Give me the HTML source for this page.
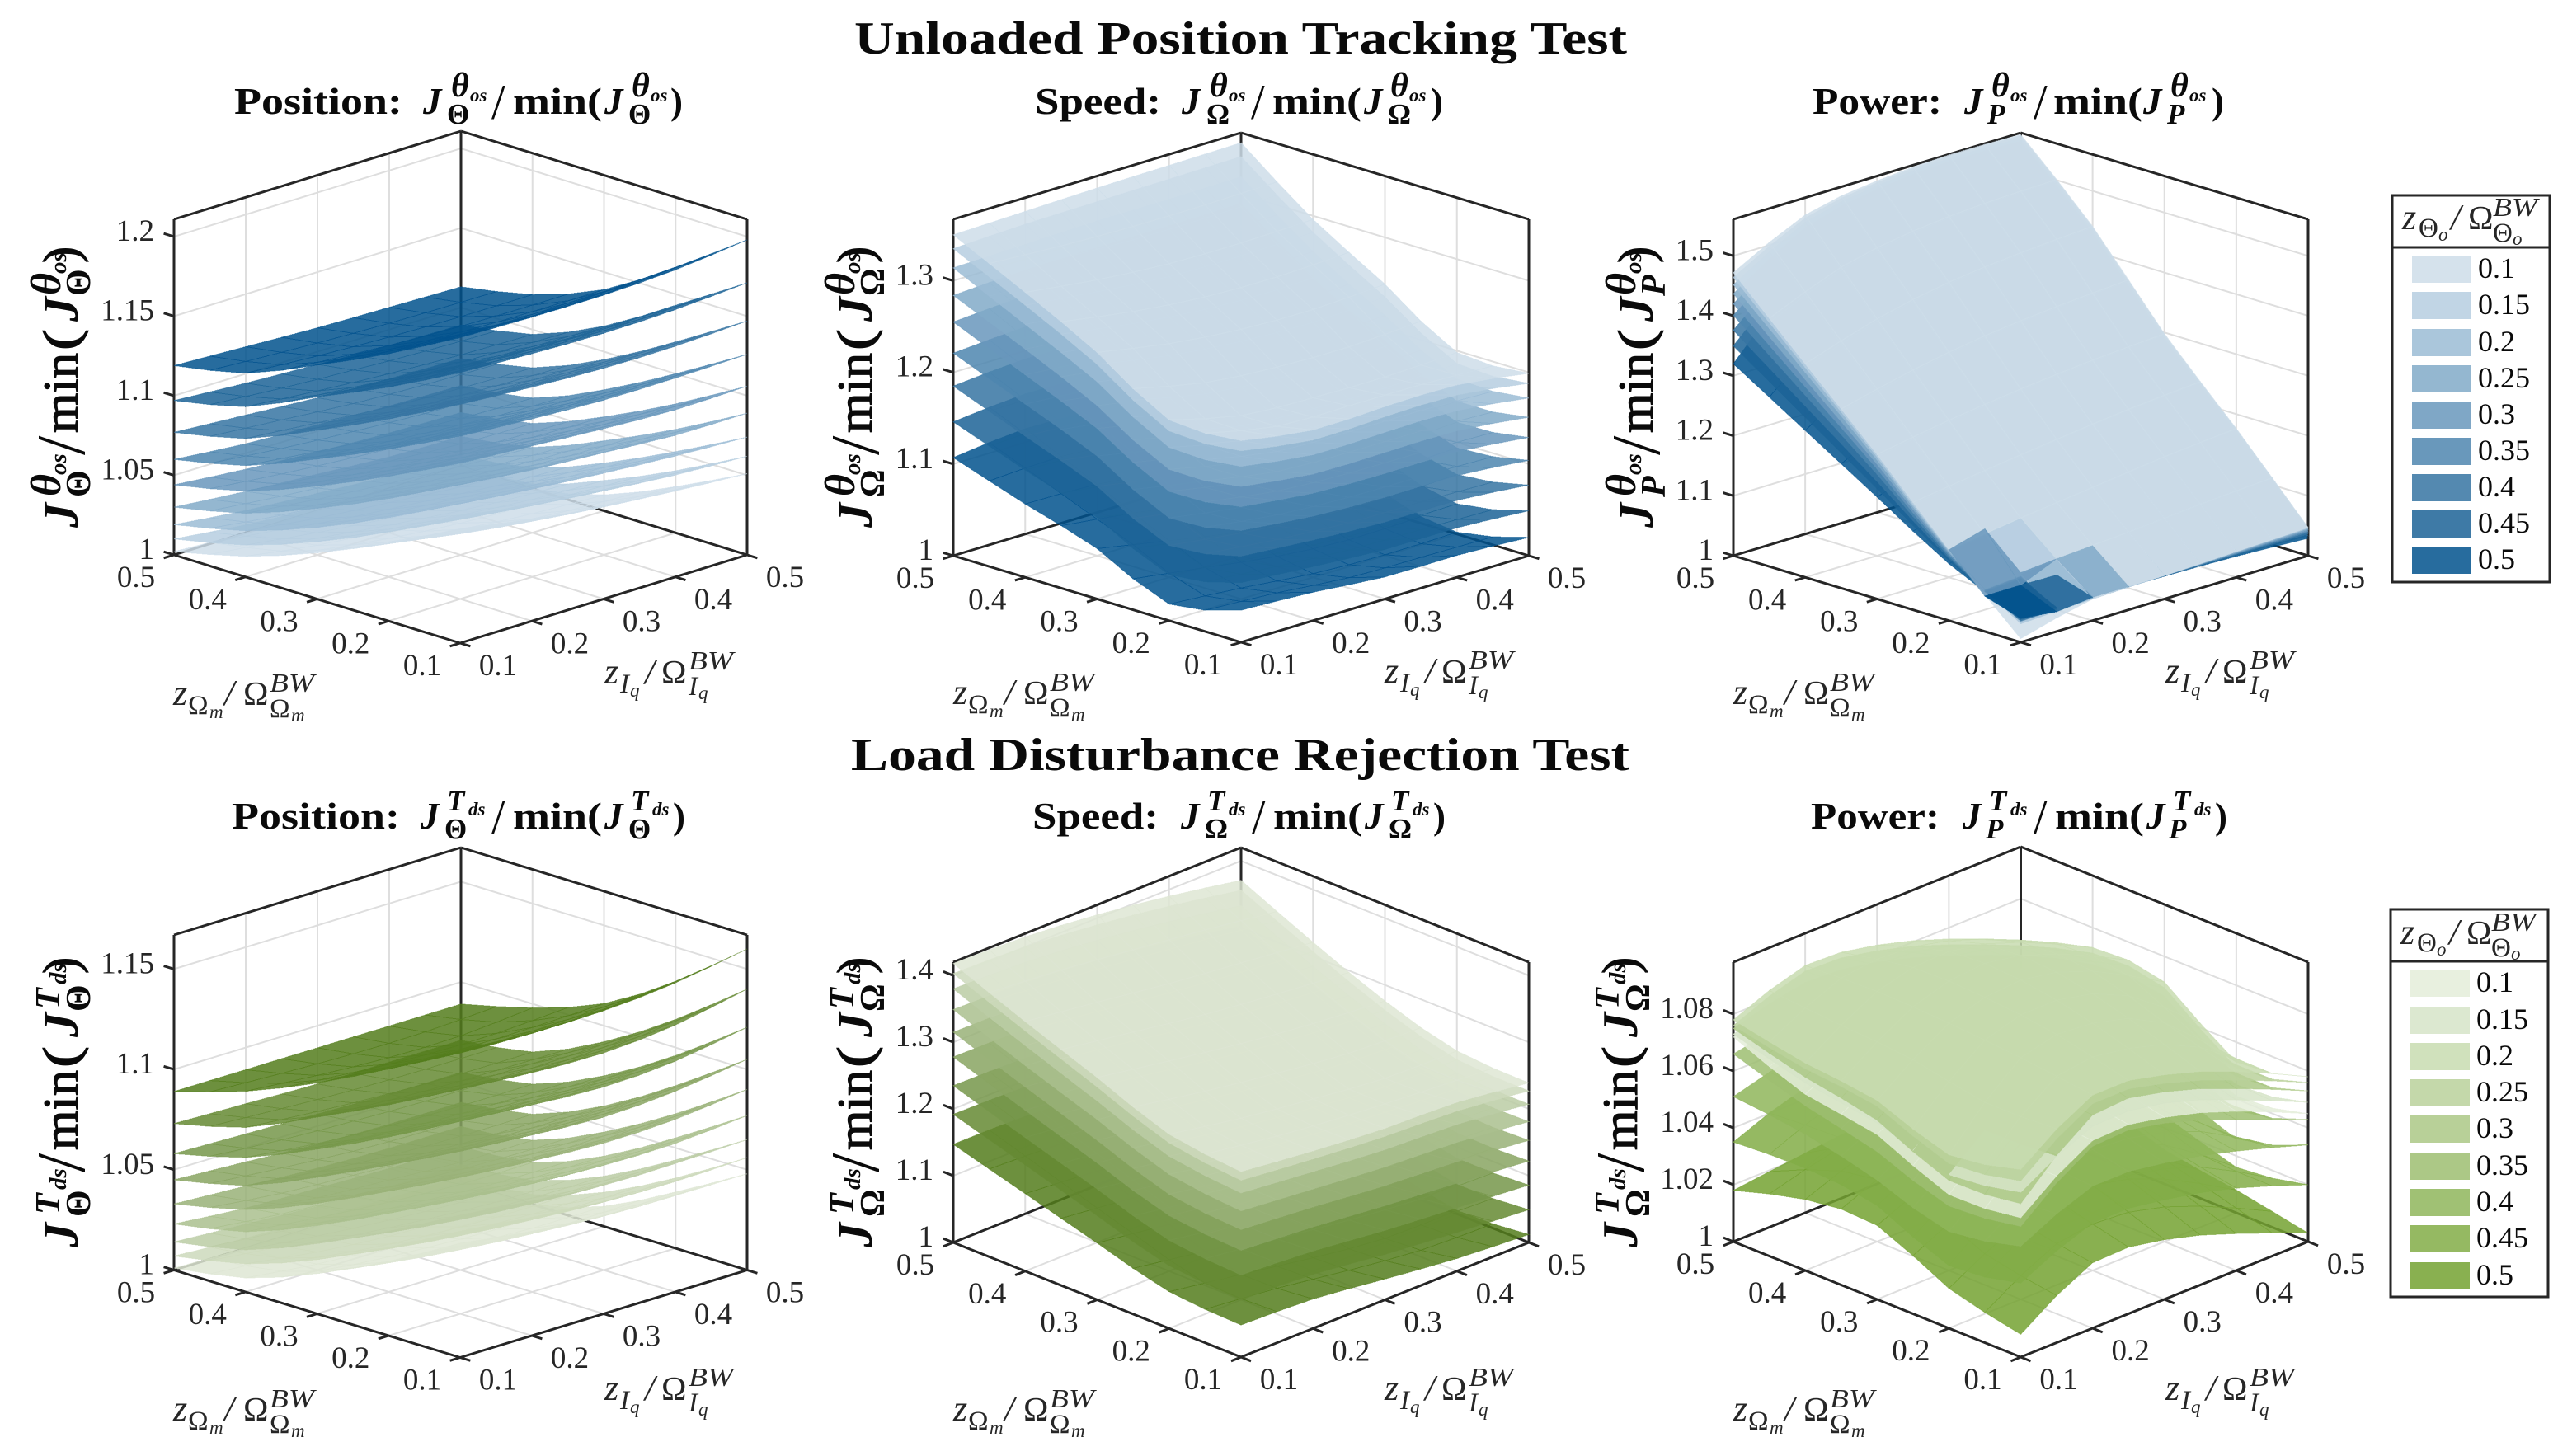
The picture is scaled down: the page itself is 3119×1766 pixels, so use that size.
<!DOCTYPE html>
<html lang="en">
<head>
<meta charset="utf-8">
<title>Unloaded Position Tracking and Load Disturbance Rejection Tests</title>
<style>
html,body{margin:0;padding:0;background:#fff}
svg{display:block}
text{font-family:"Liberation Serif","DejaVu Serif",serif;fill:#0a0a0a;white-space:pre}
.b{font-weight:bold}
.i{font-style:italic}
.bi{font-weight:bold;font-style:italic}
.main{font-size:56px;font-weight:bold}
.ttl text{font-size:45px}
.ttl text.s1{font-size:35px}
.ttl text.th{font-size:42px}
.ttl text.s2{font-size:23px}
.ttl text.sl{font-size:60px}
.yl text{font-size:60px}
.yl text.s1{font-size:42px}
.yl text.th{font-size:52px}
.yl text.s2{font-size:29px}
.yl text.sl{font-size:84px}
.yl text.mn{stroke:#0a0a0a;stroke-width:1.2px}
.al text{font-size:44px;fill:#262626}
.al text.om{font-size:41px}
.al text.s1{font-size:33px}
.al text.s2{font-size:23px}
.al text.s3{font-size:32px}
.lg{font-size:36px}
.tick{font-size:37px;fill:#262626}
</style>
</head>
<body>
<svg id="figure" xmlns="http://www.w3.org/2000/svg" width="3119" height="1766" viewBox="0 0 3119 1766">
<rect x="0" y="0" width="3119" height="1766" fill="#fff"/>
<g id="plots"></g>

<text class="main" x="1036" y="65" textLength="937" lengthAdjust="spacingAndGlyphs">Unloaded Position Tracking Test</text>
<text class="main" x="1032" y="934" textLength="944" lengthAdjust="spacingAndGlyphs">Load Disturbance Rejection Test</text>

<g class="ttl" transform="translate(513,138)">
<text x="-229" class="b" textLength="204" lengthAdjust="spacingAndGlyphs">Position:</text><text class="bi">J</text><text x="34" y="-21" class="bi th">θ</text><text x="57" y="-15" class="bi s2">os</text><text x="29" y="12" class="b s1">Θ</text><text x="83" y="6" class="sl">/</text><text x="109" class="b" textLength="108" lengthAdjust="spacingAndGlyphs">min(</text><text x="220" class="bi">J</text><text x="253" y="-21" class="bi th">θ</text><text x="276" y="-15" class="bi s2">os</text><text x="249" y="12" class="b s1">Θ</text><text x="300" class="b">)</text>
</g>
<g class="ttl" transform="translate(1433,138)">
<text x="-178" class="b" textLength="153" lengthAdjust="spacingAndGlyphs">Speed:</text><text class="bi">J</text><text x="34" y="-21" class="bi th">θ</text><text x="57" y="-15" class="bi s2">os</text><text x="30" y="12" class="b s1">Ω</text><text x="84" y="6" class="sl">/</text><text x="110" class="b" textLength="108" lengthAdjust="spacingAndGlyphs">min(</text><text x="221" class="bi">J</text><text x="253" y="-21" class="bi th">θ</text><text x="276" y="-15" class="bi s2">os</text><text x="250" y="12" class="b s1">Ω</text><text x="302" class="b">)</text>
</g>
<g class="ttl" transform="translate(2382,138)">
<text x="-184" class="b" textLength="157" lengthAdjust="spacingAndGlyphs">Power:</text><text class="bi">J</text><text x="33" y="-21" class="bi th">θ</text><text x="56" y="-15" class="bi s2">os</text><text x="28" y="12" class="bi s1">P</text><text x="84" y="6" class="sl">/</text><text x="108" class="b" textLength="108" lengthAdjust="spacingAndGlyphs">min(</text><text x="217" class="bi">J</text><text x="250" y="-21" class="bi th">θ</text><text x="273" y="-15" class="bi s2">os</text><text x="246" y="12" class="bi s1">P</text><text x="300" class="b">)</text>
</g>
<g class="ttl" transform="translate(510,1005)">
<text x="-229" class="b" textLength="204" lengthAdjust="spacingAndGlyphs">Position:</text><text class="bi">J</text><text x="32" y="-22" class="bi s1">T</text><text x="58" y="-16" class="bi s2">ds</text><text x="29" y="12" class="b s1">Θ</text><text x="86" y="6" class="sl">/</text><text x="112" class="b" textLength="108" lengthAdjust="spacingAndGlyphs">min(</text><text x="223" class="bi">J</text><text x="255" y="-22" class="bi s1">T</text><text x="281" y="-16" class="bi s2">ds</text><text x="252" y="12" class="b s1">Θ</text><text x="306" class="b">)</text>
</g>
<g class="ttl" transform="translate(1432,1005)">
<text x="-180" class="b" textLength="153" lengthAdjust="spacingAndGlyphs">Speed:</text><text class="bi">J</text><text x="32" y="-22" class="bi s1">T</text><text x="58" y="-16" class="bi s2">ds</text><text x="29" y="12" class="b s1">Ω</text><text x="86" y="6" class="sl">/</text><text x="112" class="b" textLength="108" lengthAdjust="spacingAndGlyphs">min(</text><text x="223" class="bi">J</text><text x="255" y="-22" class="bi s1">T</text><text x="281" y="-16" class="bi s2">ds</text><text x="252" y="12" class="b s1">Ω</text><text x="306" class="b">)</text>
</g>
<g class="ttl" transform="translate(2380,1005)">
<text x="-184" class="b" textLength="156" lengthAdjust="spacingAndGlyphs">Power:</text><text class="bi">J</text><text x="32" y="-22" class="bi s1">T</text><text x="58" y="-16" class="bi s2">ds</text><text x="28" y="12" class="bi s1">P</text><text x="86" y="6" class="sl">/</text><text x="112" class="b" textLength="108" lengthAdjust="spacingAndGlyphs">min(</text><text x="223" class="bi">J</text><text x="255" y="-22" class="bi s1">T</text><text x="281" y="-16" class="bi s2">ds</text><text x="250" y="12" class="bi s1">P</text><text x="306" class="b">)</text>
</g>

<g class="yl" transform="translate(94,640) rotate(-90)">
<text class="bi">J</text><text x="38" y="-21" class="bi th">θ</text><text x="64" y="-14" class="bi s2">os</text><text x="37" y="15" class="b s1">Θ</text><text x="88" y="8" class="sl">/</text><text x="115" class="mn" textLength="97" lengthAdjust="spacingAndGlyphs">min</text><text x="215" class="mn" textLength="26" lengthAdjust="spacingAndGlyphs">(</text><text x="250" class="bi">J</text><text x="282" y="-21" class="bi th">θ</text><text x="308" y="-14" class="bi s2">os</text><text x="281" y="15" class="b s1">Θ</text><text x="321" class="mn">)</text>
</g>
<g class="yl" transform="translate(1057,640) rotate(-90)">
<text class="bi">J</text><text x="38" y="-21" class="bi th">θ</text><text x="64" y="-14" class="bi s2">os</text><text x="37" y="15" class="b s1">Ω</text><text x="88" y="8" class="sl">/</text><text x="115" class="mn" textLength="97" lengthAdjust="spacingAndGlyphs">min</text><text x="215" class="mn" textLength="26" lengthAdjust="spacingAndGlyphs">(</text><text x="250" class="bi">J</text><text x="282" y="-21" class="bi th">θ</text><text x="308" y="-14" class="bi s2">os</text><text x="281" y="15" class="b s1">Ω</text><text x="321" class="mn">)</text>
</g>
<g class="yl" transform="translate(2004,640) rotate(-90)">
<text class="bi">J</text><text x="38" y="-21" class="bi th">θ</text><text x="64" y="-14" class="bi s2">os</text><text x="37" y="15" class="bi s1">P</text><text x="88" y="8" class="sl">/</text><text x="115" class="mn" textLength="97" lengthAdjust="spacingAndGlyphs">min</text><text x="215" class="mn" textLength="26" lengthAdjust="spacingAndGlyphs">(</text><text x="250" class="bi">J</text><text x="282" y="-21" class="bi th">θ</text><text x="308" y="-14" class="bi s2">os</text><text x="281" y="15" class="bi s1">P</text><text x="321" class="mn">)</text>
</g>
<g class="yl" transform="translate(94,1513) rotate(-90)">
<text class="bi">J</text><text x="40" y="-22" class="bi s1">T</text><text x="70" y="-14" class="bi s2">ds</text><text x="37" y="15" class="b s1">Θ</text><text x="91" y="8" class="sl">/</text><text x="118" class="mn" textLength="97" lengthAdjust="spacingAndGlyphs">min</text><text x="218" class="mn" textLength="26" lengthAdjust="spacingAndGlyphs">(</text><text x="255" class="bi">J</text><text x="289" y="-22" class="bi s1">T</text><text x="319" y="-14" class="bi s2">ds</text><text x="286" y="15" class="b s1">Θ</text><text x="332" class="mn">)</text>
</g>
<g class="yl" transform="translate(1057,1513) rotate(-90)">
<text class="bi">J</text><text x="40" y="-22" class="bi s1">T</text><text x="70" y="-14" class="bi s2">ds</text><text x="37" y="15" class="b s1">Ω</text><text x="91" y="8" class="sl">/</text><text x="118" class="mn" textLength="97" lengthAdjust="spacingAndGlyphs">min</text><text x="218" class="mn" textLength="26" lengthAdjust="spacingAndGlyphs">(</text><text x="255" class="bi">J</text><text x="289" y="-22" class="bi s1">T</text><text x="319" y="-14" class="bi s2">ds</text><text x="286" y="15" class="b s1">Ω</text><text x="332" class="mn">)</text>
</g>
<g class="yl" transform="translate(1985,1513) rotate(-90)">
<text class="bi">J</text><text x="40" y="-22" class="bi s1">T</text><text x="70" y="-14" class="bi s2">ds</text><text x="37" y="15" class="b s1">Ω</text><text x="91" y="8" class="sl">/</text><text x="118" class="mn" textLength="97" lengthAdjust="spacingAndGlyphs">min</text><text x="218" class="mn" textLength="26" lengthAdjust="spacingAndGlyphs">(</text><text x="255" class="bi">J</text><text x="289" y="-22" class="bi s1">T</text><text x="319" y="-14" class="bi s2">ds</text><text x="286" y="15" class="b s1">Ω</text><text x="332" class="mn">)</text>
</g>

<g class="al" transform="translate(210,855)"><text class="i">z</text><text x="18" y="11" class="s1">Ω</text><text x="44" y="16" class="i s2">m</text><text x="62" class="i">/</text><text x="85" class="om">Ω</text><text x="117" y="-16" class="i s3" textLength="54" lengthAdjust="spacingAndGlyphs">BW</text><text x="117" y="15" class="s1">Ω</text><text x="143" y="20" class="i s2">m</text></g>
<g class="al" transform="translate(733,829)"><text class="i">z</text><text x="19" y="11" class="i s1">I</text><text x="31" y="16" class="i s2">q</text><text x="49" class="i">/</text><text x="69" class="om">Ω</text><text x="102" y="-17" class="i s3" textLength="54" lengthAdjust="spacingAndGlyphs">BW</text><text x="102" y="14" class="i s1">I</text><text x="114" y="19" class="i s2">q</text></g>
<g class="al" transform="translate(1156,854)"><text class="i">z</text><text x="18" y="11" class="s1">Ω</text><text x="44" y="16" class="i s2">m</text><text x="62" class="i">/</text><text x="85" class="om">Ω</text><text x="117" y="-16" class="i s3" textLength="54" lengthAdjust="spacingAndGlyphs">BW</text><text x="117" y="15" class="s1">Ω</text><text x="143" y="20" class="i s2">m</text></g>
<g class="al" transform="translate(1679,828)"><text class="i">z</text><text x="19" y="11" class="i s1">I</text><text x="31" y="16" class="i s2">q</text><text x="49" class="i">/</text><text x="69" class="om">Ω</text><text x="102" y="-17" class="i s3" textLength="54" lengthAdjust="spacingAndGlyphs">BW</text><text x="102" y="14" class="i s1">I</text><text x="114" y="19" class="i s2">q</text></g>
<g class="al" transform="translate(2102,854)"><text class="i">z</text><text x="18" y="11" class="s1">Ω</text><text x="44" y="16" class="i s2">m</text><text x="62" class="i">/</text><text x="85" class="om">Ω</text><text x="117" y="-16" class="i s3" textLength="54" lengthAdjust="spacingAndGlyphs">BW</text><text x="117" y="15" class="s1">Ω</text><text x="143" y="20" class="i s2">m</text></g>
<g class="al" transform="translate(2626,828)"><text class="i">z</text><text x="19" y="11" class="i s1">I</text><text x="31" y="16" class="i s2">q</text><text x="49" class="i">/</text><text x="69" class="om">Ω</text><text x="102" y="-17" class="i s3" textLength="54" lengthAdjust="spacingAndGlyphs">BW</text><text x="102" y="14" class="i s1">I</text><text x="114" y="19" class="i s2">q</text></g>
<g class="al" transform="translate(210,1723)"><text class="i">z</text><text x="18" y="11" class="s1">Ω</text><text x="44" y="16" class="i s2">m</text><text x="62" class="i">/</text><text x="85" class="om">Ω</text><text x="117" y="-16" class="i s3" textLength="54" lengthAdjust="spacingAndGlyphs">BW</text><text x="117" y="15" class="s1">Ω</text><text x="143" y="20" class="i s2">m</text></g>
<g class="al" transform="translate(733,1698)"><text class="i">z</text><text x="19" y="11" class="i s1">I</text><text x="31" y="16" class="i s2">q</text><text x="49" class="i">/</text><text x="69" class="om">Ω</text><text x="102" y="-17" class="i s3" textLength="54" lengthAdjust="spacingAndGlyphs">BW</text><text x="102" y="14" class="i s1">I</text><text x="114" y="19" class="i s2">q</text></g>
<g class="al" transform="translate(1156,1723)"><text class="i">z</text><text x="18" y="11" class="s1">Ω</text><text x="44" y="16" class="i s2">m</text><text x="62" class="i">/</text><text x="85" class="om">Ω</text><text x="117" y="-16" class="i s3" textLength="54" lengthAdjust="spacingAndGlyphs">BW</text><text x="117" y="15" class="s1">Ω</text><text x="143" y="20" class="i s2">m</text></g>
<g class="al" transform="translate(1679,1698)"><text class="i">z</text><text x="19" y="11" class="i s1">I</text><text x="31" y="16" class="i s2">q</text><text x="49" class="i">/</text><text x="69" class="om">Ω</text><text x="102" y="-17" class="i s3" textLength="54" lengthAdjust="spacingAndGlyphs">BW</text><text x="102" y="14" class="i s1">I</text><text x="114" y="19" class="i s2">q</text></g>
<g class="al" transform="translate(2102,1723)"><text class="i">z</text><text x="18" y="11" class="s1">Ω</text><text x="44" y="16" class="i s2">m</text><text x="62" class="i">/</text><text x="85" class="om">Ω</text><text x="117" y="-16" class="i s3" textLength="54" lengthAdjust="spacingAndGlyphs">BW</text><text x="117" y="15" class="s1">Ω</text><text x="143" y="20" class="i s2">m</text></g>
<g class="al" transform="translate(2626,1698)"><text class="i">z</text><text x="19" y="11" class="i s1">I</text><text x="31" y="16" class="i s2">q</text><text x="49" class="i">/</text><text x="69" class="om">Ω</text><text x="102" y="-17" class="i s3" textLength="54" lengthAdjust="spacingAndGlyphs">BW</text><text x="102" y="14" class="i s1">I</text><text x="114" y="19" class="i s2">q</text></g>

<g>
<rect x="2901" y="237" width="191" height="469" fill="#fff" stroke="#262626" stroke-width="3"/>
<line x1="2901" y1="300" x2="3092" y2="300" stroke="#262626" stroke-width="3"/>
<g class="al" transform="translate(2913,278)"><text class="i">z</text><text x="20" y="9" class="s1">Θ</text><text x="44" y="14" class="i s2">o</text><text x="59" class="i">/</text><text x="80" class="om">Ω</text><text x="110" y="-16" class="i s3" textLength="54" lengthAdjust="spacingAndGlyphs">BW</text><text x="110" y="15" class="s1">Θ</text><text x="134" y="19" class="i s2">o</text></g>
<g><rect x="2925" y="310" width="72" height="33" fill="#d5e2ec"/><text class="lg" x="3005" y="337">0.1</text></g>
<g><rect x="2925" y="354" width="72" height="33" fill="#c1d5e5"/><text class="lg" x="3005" y="381">0.15</text></g>
<g><rect x="2925" y="399" width="72" height="33" fill="#aac6db"/><text class="lg" x="3005" y="426">0.2</text></g>
<g><rect x="2925" y="443" width="72" height="33" fill="#94b7d0"/><text class="lg" x="3005" y="470">0.25</text></g>
<g><rect x="2925" y="487" width="72" height="33" fill="#7fa7c6"/><text class="lg" x="3005" y="514">0.3</text></g>
<g><rect x="2925" y="531" width="72" height="33" fill="#6998bb"/><text class="lg" x="3005" y="558">0.35</text></g>
<g><rect x="2925" y="575" width="72" height="33" fill="#5489b0"/><text class="lg" x="3005" y="602">0.4</text></g>
<g><rect x="2925" y="619" width="72" height="33" fill="#3e7aa6"/><text class="lg" x="3005" y="646">0.45</text></g>
<g><rect x="2925" y="663" width="72" height="33" fill="#276c9e"/><text class="lg" x="3005" y="690">0.5</text></g>
</g>

<g>
<rect x="2899" y="1103" width="191" height="470" fill="#fff" stroke="#262626" stroke-width="3"/>
<line x1="2899" y1="1166" x2="3090" y2="1166" stroke="#262626" stroke-width="3"/>
<g class="al" transform="translate(2911,1145)"><text class="i">z</text><text x="20" y="9" class="s1">Θ</text><text x="44" y="14" class="i s2">o</text><text x="59" class="i">/</text><text x="80" class="om">Ω</text><text x="110" y="-16" class="i s3" textLength="54" lengthAdjust="spacingAndGlyphs">BW</text><text x="110" y="15" class="s1">Θ</text><text x="134" y="19" class="i s2">o</text></g>
<g><rect x="2923" y="1176" width="72" height="33" fill="#e8f0df"/><text class="lg" x="3003" y="1203">0.1</text></g>
<g><rect x="2923" y="1221" width="72" height="33" fill="#dce8d0"/><text class="lg" x="3003" y="1248">0.15</text></g>
<g><rect x="2923" y="1265" width="72" height="33" fill="#d0e1bc"/><text class="lg" x="3003" y="1292">0.2</text></g>
<g><rect x="2923" y="1309" width="72" height="33" fill="#c4d8aa"/><text class="lg" x="3003" y="1336">0.25</text></g>
<g><rect x="2923" y="1353" width="72" height="33" fill="#b8d098"/><text class="lg" x="3003" y="1380">0.3</text></g>
<g><rect x="2923" y="1398" width="72" height="33" fill="#acc886"/><text class="lg" x="3003" y="1425">0.35</text></g>
<g><rect x="2923" y="1442" width="72" height="33" fill="#a0c174"/><text class="lg" x="3003" y="1469">0.4</text></g>
<g><rect x="2923" y="1486" width="72" height="33" fill="#95b962"/><text class="lg" x="3003" y="1513">0.45</text></g>
<g><rect x="2923" y="1531" width="72" height="33" fill="#89b050"/><text class="lg" x="3003" y="1558">0.5</text></g>
</g>
</svg>

<script>
/* ---- axis values ---- */
const gainTicks = [0.1, 0.2, 0.3, 0.4, 0.5];
const gridSamples = [0.1, 0.2, 0.3, 0.4, 0.5];
const observerLevels = [0.1, 0.15, 0.2, 0.25, 0.3, 0.35, 0.4, 0.45, 0.5];
const zTicksOsPos = [1, 1.05, 1.1, 1.15, 1.2];
const zTicksOsSpd = [1, 1.1, 1.2, 1.3];
const zTicksOsPow = [1, 1.1, 1.2, 1.3, 1.4, 1.5];
const zTicksDsPos = [1, 1.05, 1.1, 1.15];
const zTicksDsSpd = [1, 1.1, 1.2, 1.3, 1.4];
const zTicksDsPow = [1, 1.02, 1.04, 1.06, 1.08];

/* ---- surface colours, one per observer level ---- */
const blueFills = ['#cedde9','#b6cee0','#9bbcd5','#81aac8','#6897bc','#4e86af','#3674a2','#1c6396','#01528d'];
const oliveFills = ['#dee6d3','#cdd9bc','#bbcca5','#aabf8e','#99b178','#88a461','#76974a','#658a33','#547d1c'];
const greenFills = ['#e4edd9','#d6e4c8','#c8dcb0','#bad19b','#abc886','#9dbe71','#8fb65b','#82ad46','#74a231'];

/* ---- surface values: rows zOmega 0.1..0.5, columns zIq 0.1..0.5 ---- */
/* Unloaded, position */
const osPos10 = [[1.072,1.064,1.058,1.054,1.051],[1.049,1.041,1.035,1.031,1.029],[1.029,1.022,1.016,1.012,1.010],[1.013,1.006,1.002,1.000,1.000],[1.002,1.000,1.000,1.000,1.000]];
const osPos15 = [[1.080,1.073,1.068,1.064,1.062],[1.056,1.050,1.045,1.041,1.039],[1.036,1.030,1.025,1.021,1.019],[1.020,1.014,1.009,1.005,1.003],[1.010,1.005,1.002,1.000,1.000]];
const osPos20 = [[1.088,1.083,1.079,1.076,1.074],[1.065,1.060,1.056,1.053,1.051],[1.045,1.040,1.036,1.032,1.030],[1.029,1.023,1.019,1.015,1.013],[1.019,1.014,1.011,1.008,1.007]];
const osPos25 = [[1.100,1.095,1.092,1.089,1.089],[1.077,1.072,1.068,1.066,1.065],[1.057,1.052,1.048,1.045,1.044],[1.040,1.035,1.031,1.028,1.026],[1.030,1.026,1.023,1.020,1.019]];
const osPos30 = [[1.113,1.110,1.107,1.105,1.106],[1.091,1.087,1.084,1.082,1.081],[1.071,1.067,1.063,1.060,1.059],[1.054,1.049,1.045,1.042,1.041],[1.044,1.040,1.037,1.035,1.034]];
const osPos35 = [[1.130,1.127,1.125,1.125,1.126],[1.108,1.105,1.102,1.100,1.100],[1.088,1.083,1.080,1.077,1.076],[1.070,1.065,1.061,1.058,1.057],[1.060,1.056,1.054,1.052,1.051]];
const osPos40 = [[1.150,1.147,1.145,1.145,1.147],[1.127,1.124,1.121,1.120,1.120],[1.106,1.102,1.098,1.096,1.095],[1.087,1.083,1.079,1.077,1.076],[1.077,1.074,1.071,1.069,1.068]];
const osPos45 = [[1.170,1.168,1.167,1.168,1.171],[1.147,1.145,1.143,1.142,1.143],[1.127,1.123,1.119,1.117,1.116],[1.107,1.103,1.100,1.098,1.097],[1.097,1.094,1.092,1.090,1.089]];
const osPos50 = [[1.192,1.191,1.191,1.193,1.198],[1.168,1.166,1.164,1.165,1.167],[1.147,1.143,1.140,1.139,1.139],[1.128,1.125,1.123,1.122,1.122],[1.119,1.117,1.115,1.114,1.113]];
/* Unloaded, speed */
const osSpd10 = [[1.220,1.208,1.210,1.210,1.199],[1.219,1.200,1.196,1.195,1.198],[1.269,1.255,1.247,1.245,1.249],[1.311,1.301,1.295,1.294,1.296],[1.350,1.352,1.354,1.355,1.356]];
const osSpd15 = [[1.209,1.197,1.199,1.199,1.188],[1.207,1.189,1.184,1.183,1.186],[1.256,1.242,1.234,1.231,1.235],[1.297,1.288,1.281,1.280,1.282],[1.335,1.338,1.339,1.340,1.341]];
const osSpd20 = [[1.192,1.181,1.182,1.182,1.172],[1.189,1.172,1.167,1.166,1.169],[1.237,1.223,1.214,1.211,1.215],[1.276,1.268,1.261,1.259,1.261],[1.314,1.316,1.318,1.318,1.319]];
const osSpd25 = [[1.170,1.160,1.160,1.160,1.151],[1.165,1.149,1.144,1.143,1.145],[1.211,1.197,1.187,1.184,1.187],[1.249,1.241,1.234,1.231,1.233],[1.284,1.288,1.289,1.289,1.290]];
const osSpd30 = [[1.148,1.139,1.137,1.137,1.129],[1.141,1.127,1.121,1.119,1.122],[1.186,1.171,1.161,1.156,1.160],[1.221,1.214,1.206,1.203,1.205],[1.255,1.260,1.260,1.259,1.261]];
const osSpd35 = [[1.122,1.114,1.111,1.111,1.104],[1.112,1.100,1.094,1.092,1.094],[1.156,1.141,1.130,1.125,1.128],[1.189,1.183,1.175,1.170,1.172],[1.221,1.226,1.226,1.225,1.227]];
const osSpd40 = [[1.094,1.088,1.084,1.084,1.077],[1.082,1.072,1.065,1.063,1.065],[1.123,1.109,1.097,1.091,1.093],[1.154,1.149,1.141,1.135,1.137],[1.185,1.191,1.189,1.188,1.190]];
const osSpd45 = [[1.065,1.059,1.054,1.054,1.049],[1.050,1.042,1.035,1.032,1.033],[1.089,1.074,1.061,1.054,1.057],[1.117,1.114,1.104,1.097,1.099],[1.146,1.153,1.151,1.149,1.151]];
const osSpd50 = [[1.035,1.031,1.024,1.024,1.020],[1.018,1.012,1.004,1.001,1.002],[1.055,1.040,1.026,1.018,1.020],[1.080,1.078,1.068,1.060,1.062],[1.107,1.115,1.112,1.110,1.112]];
/* Unloaded, power */
const osPow10 = [[1.006,1.036,1.039,1.043,1.047],[1.118,1.135,1.150,1.165,1.176],[1.241,1.262,1.278,1.290,1.298],[1.356,1.395,1.420,1.433,1.441],[1.472,1.532,1.553,1.560,1.558]];
const osPow15 = [[1.031,1.036,1.039,1.043,1.046],[1.117,1.134,1.149,1.164,1.175],[1.237,1.259,1.276,1.288,1.296],[1.350,1.391,1.417,1.431,1.439],[1.464,1.527,1.550,1.558,1.556]];
const osPow20 = [[1.031,1.037,1.039,1.042,1.045],[1.115,1.132,1.147,1.162,1.173],[1.232,1.255,1.272,1.285,1.292],[1.342,1.385,1.412,1.427,1.435],[1.452,1.520,1.545,1.554,1.552]];
const osPow25 = [[1.032,1.037,1.039,1.041,1.043],[1.113,1.129,1.144,1.159,1.170],[1.225,1.250,1.268,1.281,1.288],[1.330,1.378,1.406,1.422,1.430],[1.437,1.511,1.539,1.549,1.547]];
const osPow30 = [[1.033,1.037,1.039,1.040,1.041],[1.110,1.127,1.142,1.157,1.167],[1.217,1.244,1.263,1.276,1.283],[1.318,1.370,1.400,1.417,1.425],[1.420,1.501,1.532,1.543,1.542]];
const osPow35 = [[1.035,1.038,1.039,1.039,1.039],[1.107,1.123,1.138,1.153,1.164],[1.208,1.238,1.258,1.271,1.278],[1.304,1.360,1.392,1.410,1.419],[1.401,1.489,1.523,1.537,1.535]];
const osPow40 = [[1.036,1.039,1.038,1.038,1.036],[1.104,1.119,1.134,1.149,1.160],[1.196,1.229,1.251,1.265,1.271],[1.286,1.348,1.382,1.403,1.412],[1.376,1.474,1.513,1.529,1.528]];
const osPow45 = [[1.038,1.039,1.038,1.037,1.033],[1.100,1.115,1.130,1.145,1.155],[1.184,1.220,1.244,1.258,1.264],[1.267,1.335,1.372,1.395,1.404],[1.350,1.458,1.503,1.520,1.520]];
const osPow50 = [[1.040,1.040,1.038,1.035,1.029],[1.095,1.110,1.125,1.140,1.150],[1.170,1.210,1.235,1.250,1.255],[1.245,1.320,1.360,1.385,1.395],[1.320,1.440,1.490,1.510,1.510]];
/* Unloaded, power: single-mesh-cell pieces next to the origin */
const osPowPatchA = [[1.059,1.059],[1.118,1.135]];
const osPowPatchAx = [0.15, 0.2];
const osPowPatchAy = [0.1, 0.15];
const osPowPatchB = [[1.059,1.085],[1.135,1.044]];
const osPowPatchBx = [0.15, 0.2];
const osPowPatchBy = [0.15, 0.2];
const osPowPatchC = [[1.039,1.039],[1.085,1.089]];
const osPowPatchCx = [0.1, 0.15];
const osPowPatchCy = [0.2, 0.25];
const osPowPatchD = [[1.033,1.039],[1.059,1.058]];
const osPowPatchDx = [0.1, 0.15];
const osPowPatchDy = [0.15, 0.2];
const osPowPatchE = [[1.040,1.033],[1.059,1.059]];
const osPowPatchEx = [0.1, 0.15];
const osPowPatchEy = [0.1, 0.15];
/* Load disturbance, position */
const dsPos10 = [[1.057,1.052,1.049,1.048,1.048],[1.037,1.032,1.029,1.027,1.028],[1.020,1.015,1.012,1.010,1.010],[1.007,1.003,1.001,1.000,1.000],[1.001,1.000,1.000,1.000,1.000]];
const dsPos15 = [[1.063,1.059,1.056,1.055,1.056],[1.044,1.039,1.036,1.034,1.035],[1.027,1.022,1.019,1.017,1.017],[1.014,1.009,1.006,1.005,1.005],[1.007,1.005,1.004,1.003,1.003]];
const dsPos20 = [[1.071,1.067,1.064,1.064,1.065],[1.052,1.047,1.044,1.043,1.044],[1.035,1.030,1.027,1.025,1.025],[1.021,1.017,1.014,1.012,1.012],[1.014,1.012,1.010,1.009,1.009]];
const dsPos25 = [[1.080,1.076,1.074,1.074,1.077],[1.061,1.057,1.054,1.053,1.055],[1.044,1.040,1.037,1.035,1.035],[1.030,1.026,1.023,1.021,1.021],[1.023,1.020,1.019,1.018,1.018]];
const dsPos30 = [[1.090,1.087,1.085,1.086,1.090],[1.072,1.068,1.066,1.065,1.067],[1.055,1.051,1.048,1.047,1.047],[1.041,1.036,1.034,1.032,1.032],[1.033,1.031,1.029,1.028,1.028]];
const dsPos35 = [[1.103,1.100,1.098,1.100,1.105],[1.085,1.081,1.079,1.079,1.081],[1.068,1.064,1.061,1.060,1.060],[1.053,1.049,1.046,1.045,1.045],[1.045,1.043,1.041,1.040,1.040]];
const dsPos40 = [[1.118,1.115,1.113,1.115,1.121],[1.099,1.096,1.094,1.094,1.096],[1.082,1.079,1.076,1.075,1.075],[1.067,1.063,1.061,1.060,1.060],[1.058,1.057,1.056,1.055,1.055]];
const dsPos45 = [[1.134,1.131,1.130,1.133,1.140],[1.115,1.112,1.110,1.111,1.114],[1.098,1.094,1.092,1.092,1.092],[1.082,1.079,1.077,1.076,1.076],[1.073,1.072,1.071,1.071,1.071]];
const dsPos50 = [[1.153,1.151,1.151,1.154,1.160],[1.133,1.130,1.129,1.130,1.133],[1.115,1.112,1.110,1.110,1.111],[1.100,1.097,1.095,1.095,1.098],[1.089,1.089,1.089,1.089,1.089]];
/* Load disturbance, speed */
const dsSpd10 = [[1.278,1.266,1.257,1.253,1.239],[1.291,1.272,1.258,1.246,1.244],[1.333,1.315,1.298,1.285,1.276],[1.374,1.360,1.345,1.333,1.321],[1.418,1.415,1.405,1.390,1.371]];
const dsSpd15 = [[1.265,1.254,1.245,1.240,1.227],[1.278,1.259,1.245,1.233,1.231],[1.319,1.302,1.284,1.271,1.262],[1.360,1.346,1.331,1.319,1.307],[1.403,1.400,1.390,1.375,1.356]];
const dsSpd20 = [[1.246,1.235,1.225,1.220,1.207],[1.258,1.239,1.225,1.212,1.211],[1.298,1.281,1.264,1.250,1.242],[1.338,1.325,1.310,1.297,1.285],[1.380,1.377,1.367,1.352,1.333]];
const dsSpd25 = [[1.219,1.209,1.199,1.193,1.181],[1.231,1.212,1.197,1.185,1.183],[1.270,1.253,1.235,1.221,1.213],[1.308,1.295,1.280,1.268,1.256],[1.349,1.346,1.336,1.321,1.302]];
const dsSpd30 = [[1.191,1.182,1.171,1.164,1.153],[1.201,1.183,1.168,1.155,1.153],[1.239,1.222,1.205,1.190,1.183],[1.276,1.264,1.249,1.236,1.224],[1.315,1.313,1.302,1.287,1.268]];
const dsSpd35 = [[1.160,1.152,1.141,1.132,1.122],[1.169,1.151,1.135,1.122,1.121],[1.205,1.189,1.171,1.156,1.149],[1.241,1.230,1.215,1.201,1.189],[1.278,1.276,1.266,1.250,1.231]];
const dsSpd40 = [[1.123,1.116,1.104,1.095,1.086],[1.132,1.114,1.097,1.084,1.083],[1.166,1.150,1.132,1.116,1.110],[1.200,1.189,1.174,1.160,1.148],[1.235,1.233,1.223,1.206,1.188]];
const dsSpd45 = [[1.086,1.081,1.068,1.058,1.049],[1.094,1.077,1.059,1.046,1.044],[1.126,1.110,1.092,1.076,1.071],[1.159,1.149,1.134,1.119,1.107],[1.192,1.190,1.180,1.163,1.145]];
const dsSpd50 = [[1.048,1.044,1.031,1.019,1.012],[1.055,1.038,1.020,1.006,1.005],[1.085,1.070,1.052,1.035,1.030],[1.116,1.107,1.092,1.077,1.065],[1.147,1.146,1.135,1.118,1.100]];
/* Load disturbance, power */
const dsPow10 = [[1.049,1.066,1.064,1.056,1.045],[1.047,1.068,1.070,1.062,1.041],[1.058,1.072,1.077,1.070,1.055],[1.062,1.074,1.077,1.070,1.056],[1.072,1.075,1.072,1.063,1.050]];
const dsPow15 = [[1.058,1.071,1.069,1.060,1.049],[1.054,1.073,1.075,1.067,1.045],[1.062,1.077,1.082,1.075,1.060],[1.066,1.079,1.082,1.075,1.061],[1.073,1.079,1.076,1.068,1.055]];
const dsPow20 = [[1.066,1.082,1.079,1.070,1.058],[1.061,1.085,1.087,1.077,1.053],[1.070,1.087,1.092,1.085,1.071],[1.073,1.088,1.092,1.085,1.073],[1.078,1.087,1.084,1.076,1.065]];
const dsPow25 = [[1.062,1.079,1.076,1.067,1.056],[1.058,1.082,1.084,1.075,1.051],[1.068,1.085,1.090,1.083,1.069],[1.071,1.086,1.090,1.083,1.071],[1.076,1.085,1.082,1.074,1.063]];
const dsPow30 = [[1.054,1.075,1.073,1.064,1.053],[1.052,1.077,1.080,1.072,1.048],[1.063,1.081,1.086,1.079,1.066],[1.068,1.082,1.086,1.079,1.067],[1.075,1.081,1.078,1.070,1.060]];
const dsPow35 = [[1.046,1.064,1.062,1.053,1.043],[1.043,1.065,1.067,1.058,1.036],[1.052,1.067,1.072,1.064,1.048],[1.058,1.068,1.071,1.064,1.048],[1.066,1.070,1.067,1.058,1.043]];
const dsPow40 = [[1.039,1.050,1.048,1.042,1.034],[1.034,1.052,1.055,1.046,1.026],[1.042,1.056,1.061,1.053,1.036],[1.048,1.057,1.060,1.053,1.034],[1.051,1.057,1.055,1.047,1.032]];
const dsPow45 = [[1.026,1.037,1.035,1.029,1.020],[1.022,1.040,1.042,1.034,1.016],[1.033,1.045,1.049,1.042,1.024],[1.036,1.046,1.048,1.041,1.022],[1.035,1.044,1.042,1.035,1.018]];
const dsPow50 = [[1.008,1.023,1.021,1.013,1.003],[1.014,1.027,1.030,1.022,1.008],[1.026,1.036,1.038,1.030,1.012],[1.025,1.034,1.036,1.030,1.020],[1.018,1.021,1.023,1.020,1.018]];

const osPosGrids = [osPos10,osPos15,osPos20,osPos25,osPos30,osPos35,osPos40,osPos45,osPos50];
const osSpdGrids = [osSpd10,osSpd15,osSpd20,osSpd25,osSpd30,osSpd35,osSpd40,osSpd45,osSpd50];
const osPowGrids = [osPow10,osPow15,osPow20,osPow25,osPow30,osPow35,osPow40,osPow45,osPow50];
const dsPosGrids = [dsPos10,dsPos15,dsPos20,dsPos25,dsPos30,dsPos35,dsPos40,dsPos45,dsPos50];
const dsSpdGrids = [dsSpd10,dsSpd15,dsSpd20,dsSpd25,dsSpd30,dsSpd35,dsSpd40,dsSpd45,dsSpd50];
const dsPowGrids = [dsPow10,dsPow15,dsPow20,dsPow25,dsPow30,dsPow35,dsPow40,dsPow45,dsPow50];

/* ---- layout of each 3D box (screen geometry only) ---- */
const panels = [
  {id:'position-os', A:[558,780],    L:[211,673],  R:[906,673],  top:266,  zMax:1.2109, ticks:zTicksOsPos, grids:osPosGrids, fills:blueFills},
  {id:'speed-os',    A:[1505,779],   L:[1156,674], R:[1854,674], top:266,  zMax:1.367,  ticks:zTicksOsSpd, grids:osSpdGrids, fills:blueFills},
  {id:'power-os',    A:[2450.5,779], L:[2102,674], R:[2799,674], top:266,  zMax:1.561,  ticks:zTicksOsPow, grids:osPowGrids, fills:blueFills,
    patches:[
      {level:4, xs:osPowPatchBx, ys:osPowPatchBy, z:osPowPatchB},
      {level:4, xs:osPowPatchAx, ys:osPowPatchAy, z:osPowPatchA},
      {level:3, xs:osPowPatchCx, ys:osPowPatchCy, z:osPowPatchC},
      {level:7, xs:osPowPatchDx, ys:osPowPatchDy, z:osPowPatchD},
      {level:7, xs:osPowPatchEx, ys:osPowPatchEy, z:osPowPatchE},
      {level:8, xs:osPowPatchEx, ys:osPowPatchEy, z:osPowPatchE}
    ]},
  {id:'position-ds', A:[558,1646.5], L:[211,1540.5],R:[906,1540.5],top:1134, zMax:1.167,  ticks:zTicksDsPos, grids:dsPosGrids, fills:oliveFills},
  {id:'speed-ds',    A:[1505,1646],  L:[1156,1507],R:[1854,1507],top:1167, zMax:1.42,   ticks:zTicksDsSpd, grids:dsSpdGrids, fills:oliveFills},
  {id:'power-ds',    A:[2450.5,1646],L:[2102,1506],R:[2799,1506],top:1167, zMax:1.0983, ticks:zTicksDsPow, grids:dsPowGrids, fills:greenFills}
];

const SVGNS = 'http://www.w3.org/2000/svg';
const plots = document.getElementById('plots');

function midpoint(a, b, c, d) { return (-a + 9*b + 9*c - d) / 16; }
function refineLine(v) {
  const out = [];
  for (let i = 0; i < v.length; i++) {
    out.push(v[i]);
    if (i < v.length - 1) {
      const a = i > 0 ? v[i-1] : 2*v[i] - v[i+1];
      const d = i < v.length - 2 ? v[i+2] : 2*v[i+1] - v[i];
      out.push(midpoint(a, v[i], v[i+1], d));
    }
  }
  return out;
}
function refineGrid(g) {
  const rows = g.map(refineLine);
  const cols = rows[0].map((_, j) => refineLine(rows.map(r => r[j])));
  return cols[0].map((_, i) => cols.map(c => c[i]));
}
function refineAxis(v) { return refineLine(v); }

function makeLine(parent, p, q, color, width, name) {
  const el = document.createElementNS(SVGNS, 'line');
  el.setAttribute('x1', p[0]);
  el.setAttribute('y1', p[1]);
  el.setAttribute('x2', q[0]);
  el.setAttribute('y2', q[1]);
  el.setAttribute('stroke', color);
  el.setAttribute('stroke-width', width);
  
  
  parent.appendChild(el);
  return el;
}
function makeTick(parent, x, y, anchor, label, name) {
  const el = document.createElementNS(SVGNS, 'text');
  el.setAttribute('class', 'tick');
  el.setAttribute('x', x);
  el.setAttribute('y', y);
  el.setAttribute('text-anchor', anchor);
  
  
  el.textContent = label;
  parent.appendChild(el);
}
function unit(dx, dy, len) {
  const m = Math.hypot(dx, dy);
  return [dx / m * len, dy / m * len];
}

function drawPanel(p) {
  const g = document.createElementNS(SVGNS, 'g');
  
  
  plots.appendChild(g);

  const H = p.L[1] - p.top;
  const xMin = gainTicks[0], xMax = gainTicks[gainTicks.length - 1];
  const uOf = x => (x - xMin) / (xMax - xMin);
  const wOf = z => (z - p.ticks[0]) / (p.zMax - p.ticks[0]);
  const project = (x, y, z) => {
    const u = uOf(x), v = uOf(y), w = wOf(z);
    return [
      p.A[0] + u*(p.L[0]-p.A[0]) + v*(p.R[0]-p.A[0]),
      p.A[1] + u*(p.L[1]-p.A[1]) + v*(p.R[1]-p.A[1]) - w*H
    ];
  };
  const zLo = p.ticks[0], zHi = p.zMax;

  /* grid on floor and back walls */
  gainTicks.forEach(t => {
    makeLine(g, project(t, xMin, zLo), project(t, xMax, zLo), '#dedede', 2, 'floor-gridline');
    makeLine(g, project(xMin, t, zLo), project(xMax, t, zLo), '#dedede', 2, 'floor-gridline');
    makeLine(g, project(xMax, t, zLo), project(xMax, t, zHi), '#dedede', 2, 'wall-gridline');
    makeLine(g, project(t, xMax, zLo), project(t, xMax, zHi), '#dedede', 2, 'wall-gridline');
  });
  p.ticks.forEach(t => {
    makeLine(g, project(xMax, xMin, t), project(xMax, xMax, t), '#dedede', 2, 'wall-gridline');
    makeLine(g, project(xMin, xMax, t), project(xMax, xMax, t), '#dedede', 2, 'wall-gridline');
  });

  /* rear box edges */
  const dark = '#262626';
  const box = [
    [[xMax,xMin,zLo],[xMax,xMin,zHi]], [[xMin,xMax,zLo],[xMin,xMax,zHi]],
    [[xMax,xMin,zHi],[xMax,xMax,zHi]], [[xMin,xMax,zHi],[xMax,xMax,zHi]],
    [[xMax,xMax,zLo],[xMax,xMax,zHi]],
    [[xMax,xMin,zLo],[xMax,xMax,zLo]], [[xMin,xMax,zLo],[xMax,xMax,zLo]]
  ];
  box.forEach(b => makeLine(g, project(b[0][0],b[0][1],b[0][2]), project(b[1][0],b[1][1],b[1][2]), dark, 3, 'box-edge'));

  /* surface cells, painted far to near */
  const cells = [];
  p.grids.forEach((grid, k) => {
    const zz = refineGrid(grid);
    const xs = refineAxis(gridSamples);
    const ys = refineAxis(gridSamples);
    for (let i = 0; i < xs.length - 1; i++) {
      for (let j = 0; j < ys.length - 1; j++) {
        const c = [[i,j],[i+1,j],[i+1,j+1],[i,j+1]];
        const pts = c.map(q => project(xs[q[0]], ys[q[1]], Math.max(zLo, zz[q[0]][q[1]])));
        const mu = (uOf(xs[i]) + uOf(xs[i+1])) / 2;
        const mv = (uOf(ys[j]) + uOf(ys[j+1])) / 2;
        const mz = c.reduce((s, q) => s + zz[q[0]][q[1]], 0) / 4;
        cells.push({pts, level:k, depth:-(mu+mv)*0.665 + wOf(mz)*0.342});
      }
    }
  });
  cells.sort((a, b) => a.depth - b.depth);
  const patchCells = (p.patches || []).map(s => {
    const c = [[0,0],[1,0],[1,1],[0,1]];
    return {pts:c.map(q => project(s.xs[q[0]], s.ys[q[1]], s.z[q[0]][q[1]])), level:s.level};
  });
  cells.concat(patchCells).forEach(c => {
    const el = document.createElementNS(SVGNS, 'polygon');
    el.setAttribute('points', c.pts.map(q => q[0].toFixed(1) + ',' + q[1].toFixed(1)).join(' '));
    el.setAttribute('fill', p.fills[c.level]);
    el.setAttribute('fill-opacity', '0.85');
    el.setAttribute('stroke', p.fills[c.level]);
    el.setAttribute('stroke-opacity', '0.5');
    el.setAttribute('stroke-width', '1');
    el.setAttribute('shape-rendering', 'crispEdges');
    
    
    g.appendChild(el);
  });

  /* front axes, ticks and tick labels */
  makeLine(g, p.L, p.A, dark, 3, 'x-axis-line');
  makeLine(g, p.A, p.R, dark, 3, 'y-axis-line');
  const leftDir = unit(p.A[0]-p.R[0], p.A[1]-p.R[1], 13);
  const rightDir = unit(p.A[0]-p.L[0], p.A[1]-p.L[1], 13);
  const zDir = unit(p.L[0]-p.A[0], p.L[1]-p.A[1], 13);
  gainTicks.forEach(t => {
    const a = project(t, xMin, zLo);
    makeLine(g, a, [a[0]+leftDir[0], a[1]+leftDir[1]], dark, 3, 'x-tick');
    makeTick(g, a[0]-46, a[1]+39, 'middle', String(t), 'x-tick-label');
    const b = project(xMin, t, zLo);
    makeLine(g, b, [b[0]+rightDir[0], b[1]+rightDir[1]], dark, 3, 'y-tick');
    makeTick(g, b[0]+46, b[1]+39, 'middle', String(t), 'y-tick-label');
  });
  p.ticks.forEach(t => {
    const a = project(xMax, xMin, t);
    makeLine(g, a, [a[0]+zDir[0], a[1]+zDir[1]], dark, 3, 'z-tick');
    makeTick(g, a[0]-24, a[1]+5, 'end', String(t), 'z-tick-label');
  });
}
panels.forEach(drawPanel);
</script>
</body>
</html>
